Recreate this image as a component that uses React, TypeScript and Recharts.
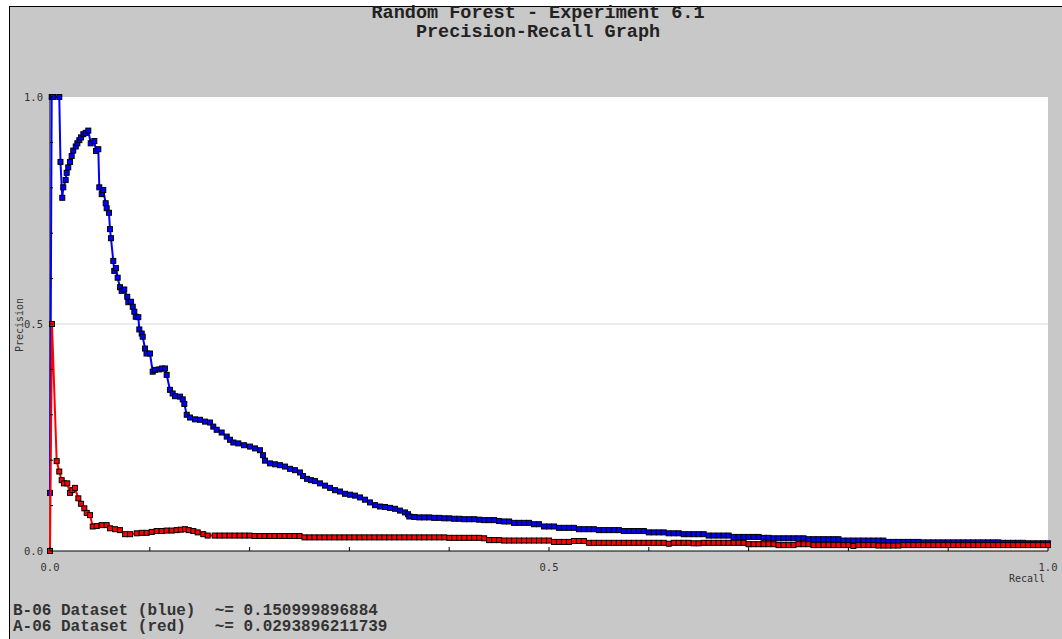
import React from 'react';
import { ScatterChart, Scatter, XAxis, YAxis, CartesianGrid, ReferenceLine } from 'recharts';

// recall / precision pairs
const blueHead: [number, number][] = [
  [0, 0.128], [0.0017, 1.0], [0.003, 1.0], [0.0093, 1.0], [0.0105, 0.857], [0.0123, 0.778], [0.0133, 0.801],
  [0.0157, 0.817], [0.0167, 0.833], [0.0183, 0.845], [0.020, 0.857], [0.0217, 0.870], [0.0233, 0.882],
  [0.0258, 0.891], [0.0274, 0.898], [0.0294, 0.905], [0.0311, 0.911], [0.0334, 0.918], [0.0358, 0.921],
  [0.0384, 0.926], [0.0408, 0.898], [0.0444, 0.903], [0.0461, 0.881], [0.0484, 0.885], [0.0494, 0.801],
  [0.0518, 0.786], [0.0534, 0.795], [0.0558, 0.766], [0.0568, 0.755], [0.0591, 0.745], [0.0601, 0.709],
  [0.0611, 0.689], [0.0634, 0.639], [0.0644, 0.617], [0.0661, 0.623], [0.0678, 0.602], [0.0701, 0.581],
  [0.0718, 0.573], [0.0744, 0.576], [0.0774, 0.560], [0.0785, 0.548], [0.0812, 0.549], [0.0829, 0.538],
  [0.0845, 0.527], [0.0859, 0.516], [0.0885, 0.515], [0.0895, 0.488], [0.0919, 0.479], [0.0929, 0.472],
  [0.0952, 0.446], [0.0967, 0.435], [0.1002, 0.435], [0.1029, 0.395], [0.1052, 0.399], [0.1095, 0.400],
  [0.1122, 0.402], [0.1152, 0.402], [0.1169, 0.388], [0.1202, 0.355], [0.1229, 0.347], [0.1253, 0.341],
  [0.1303, 0.340], [0.1330, 0.334], [0.1346, 0.324], [0.1370, 0.300], [0.1403, 0.294], [0.1453, 0.290],
  [0.1503, 0.289], [0.1553, 0.285], [0.1603, 0.283], [0.1636, 0.274], [0.1670, 0.267], [0.1720, 0.261],
  [0.1771, 0.252], [0.1804, 0.245], [0.1837, 0.239], [0.1887, 0.237], [0.1944, 0.233], [0.2004, 0.230],
  [0.2054, 0.226], [0.2104, 0.222], [0.2134, 0.211], [0.2154, 0.199], [0.2204, 0.193], [0.2255, 0.191],
  [0.2305, 0.189], [0.2355, 0.186], [0.2405, 0.181], [0.2455, 0.178], [0.2505, 0.173], [0.2535, 0.165],
  [0.2575, 0.159], [0.2615, 0.156], [0.2655, 0.154], [0.2705, 0.149], [0.2756, 0.144], [0.2806, 0.139],
  [0.2856, 0.134], [0.2906, 0.131], [0.2956, 0.126], [0.3006, 0.124], [0.3056, 0.122], [0.3106, 0.118],
  [0.3156, 0.113], [0.3206, 0.107], [0.3257, 0.101], [0.3307, 0.098], [0.3357, 0.097], [0.3407, 0.095],
  [0.3457, 0.093], [0.3507, 0.089], [0.3557, 0.085], [0.3587, 0.081],
];

const blueTail: [number, number][] = [
  [0.360, 0.076], [0.365, 0.075], [0.370, 0.074], [0.375, 0.074], [0.380, 0.074], [0.385, 0.073], [0.390, 0.073], [0.395, 0.072], [0.400, 0.072], [0.405, 0.071],
  [0.410, 0.071], [0.415, 0.070], [0.420, 0.070], [0.425, 0.070], [0.430, 0.069], [0.435, 0.068], [0.440, 0.068], [0.445, 0.068], [0.450, 0.066], [0.455, 0.065],
  [0.460, 0.065], [0.465, 0.062], [0.470, 0.062], [0.475, 0.062], [0.480, 0.062], [0.485, 0.059], [0.490, 0.059], [0.495, 0.054], [0.500, 0.054], [0.505, 0.054],
  [0.510, 0.051], [0.515, 0.051], [0.520, 0.051], [0.525, 0.051], [0.530, 0.048], [0.535, 0.048], [0.540, 0.048], [0.545, 0.048], [0.550, 0.046], [0.555, 0.046],
  [0.560, 0.046], [0.565, 0.046], [0.570, 0.046], [0.575, 0.044], [0.580, 0.044], [0.585, 0.044], [0.590, 0.044], [0.595, 0.044], [0.600, 0.041], [0.605, 0.041],
  [0.610, 0.041], [0.615, 0.041], [0.620, 0.039], [0.625, 0.039], [0.630, 0.039], [0.635, 0.037], [0.640, 0.037], [0.645, 0.037], [0.650, 0.037], [0.655, 0.037],
  [0.660, 0.034], [0.665, 0.034], [0.670, 0.034], [0.675, 0.034], [0.680, 0.034], [0.685, 0.031], [0.690, 0.031], [0.695, 0.031], [0.700, 0.031], [0.705, 0.031],
  [0.710, 0.031], [0.715, 0.029], [0.720, 0.029], [0.725, 0.028], [0.730, 0.028], [0.735, 0.028], [0.740, 0.028], [0.745, 0.028], [0.750, 0.028], [0.755, 0.028],
  [0.760, 0.026], [0.765, 0.026], [0.770, 0.026], [0.775, 0.026], [0.780, 0.026], [0.785, 0.026], [0.790, 0.026], [0.795, 0.023], [0.800, 0.023], [0.805, 0.023],
  [0.810, 0.023], [0.815, 0.023], [0.820, 0.023], [0.825, 0.023], [0.830, 0.023], [0.835, 0.023], [0.840, 0.020], [0.845, 0.020], [0.850, 0.020], [0.855, 0.020],
  [0.860, 0.020], [0.865, 0.020], [0.870, 0.020], [0.875, 0.019], [0.880, 0.019], [0.885, 0.019], [0.890, 0.019], [0.895, 0.019], [0.900, 0.019], [0.905, 0.019],
  [0.910, 0.019], [0.915, 0.019], [0.920, 0.019], [0.925, 0.019], [0.930, 0.019], [0.935, 0.019], [0.940, 0.019], [0.945, 0.019], [0.950, 0.019], [0.955, 0.018],
  [0.960, 0.018], [0.965, 0.018], [0.970, 0.018], [0.975, 0.018], [0.980, 0.017], [0.985, 0.017], [0.990, 0.017], [0.995, 0.017], [1.000, 0.017],
];

const redHead: [number, number][] = [
  [0, 0], [0.002, 0.5], [0.0067, 0.198], [0.0093, 0.175], [0.0117, 0.156], [0.014, 0.149], [0.0173, 0.149],
  [0.020, 0.128], [0.0223, 0.134], [0.025, 0.139], [0.0284, 0.116], [0.0311, 0.104], [0.0344, 0.094],
  [0.0368, 0.084], [0.0401, 0.079], [0.0428, 0.054], [0.0468, 0.055], [0.0518, 0.057], [0.0568, 0.057],
  [0.0601, 0.050], [0.0651, 0.048], [0.0701, 0.046], [0.0752, 0.037], [0.0802, 0.037], [0.0869, 0.039],
  [0.092, 0.040], [0.0969, 0.040], [0.102, 0.042], [0.1069, 0.044], [0.112, 0.044], [0.1169, 0.045],
  [0.122, 0.045], [0.1269, 0.046], [0.131, 0.047], [0.1353, 0.048], [0.139, 0.046], [0.1436, 0.044],
  [0.148, 0.041], [0.1536, 0.037], [0.158, 0.034],
];

const redTail: [number, number][] = [
  [0.165, 0.034], [0.170, 0.034], [0.175, 0.034], [0.180, 0.034], [0.185, 0.034], [0.190, 0.034], [0.195, 0.034], [0.200, 0.034], [0.205, 0.033], [0.210, 0.033],
  [0.215, 0.033], [0.220, 0.033], [0.225, 0.033], [0.230, 0.033], [0.235, 0.033], [0.240, 0.033], [0.245, 0.033], [0.250, 0.033], [0.255, 0.030], [0.260, 0.030],
  [0.265, 0.030], [0.270, 0.030], [0.275, 0.030], [0.280, 0.030], [0.285, 0.030], [0.290, 0.030], [0.295, 0.030], [0.300, 0.030], [0.305, 0.030], [0.310, 0.030],
  [0.315, 0.030], [0.320, 0.030], [0.325, 0.030], [0.330, 0.030], [0.335, 0.030], [0.340, 0.030], [0.345, 0.030], [0.350, 0.030], [0.355, 0.030], [0.360, 0.030],
  [0.365, 0.030], [0.370, 0.030], [0.375, 0.030], [0.380, 0.030], [0.385, 0.030], [0.390, 0.030], [0.395, 0.030], [0.400, 0.029], [0.405, 0.029], [0.410, 0.029],
  [0.415, 0.029], [0.420, 0.029], [0.425, 0.029], [0.430, 0.029], [0.435, 0.028], [0.440, 0.024], [0.445, 0.024], [0.450, 0.024], [0.455, 0.023], [0.460, 0.023],
  [0.465, 0.023], [0.470, 0.023], [0.475, 0.023], [0.480, 0.023], [0.485, 0.023], [0.490, 0.023], [0.495, 0.023], [0.500, 0.023], [0.505, 0.020], [0.510, 0.020],
  [0.515, 0.020], [0.520, 0.020], [0.525, 0.022], [0.530, 0.022], [0.535, 0.022], [0.540, 0.018], [0.545, 0.018], [0.550, 0.018], [0.555, 0.018], [0.560, 0.018],
  [0.565, 0.018], [0.570, 0.018], [0.575, 0.018], [0.580, 0.018], [0.585, 0.018], [0.590, 0.018], [0.595, 0.018], [0.600, 0.018], [0.605, 0.018], [0.610, 0.018],
  [0.615, 0.018], [0.620, 0.016], [0.625, 0.018], [0.630, 0.018], [0.635, 0.018], [0.640, 0.018], [0.645, 0.017], [0.650, 0.017], [0.655, 0.018], [0.660, 0.018],
  [0.665, 0.018], [0.670, 0.018], [0.675, 0.018], [0.680, 0.018], [0.685, 0.018], [0.690, 0.018], [0.695, 0.018], [0.700, 0.015], [0.705, 0.015], [0.710, 0.015],
  [0.715, 0.015], [0.720, 0.015], [0.725, 0.015], [0.730, 0.013], [0.735, 0.013], [0.740, 0.013], [0.745, 0.013], [0.750, 0.015], [0.755, 0.015], [0.760, 0.015],
  [0.765, 0.013], [0.770, 0.013], [0.775, 0.013], [0.780, 0.013], [0.785, 0.013], [0.790, 0.013], [0.795, 0.013], [0.800, 0.013], [0.805, 0.011], [0.810, 0.013],
  [0.815, 0.013], [0.820, 0.013], [0.825, 0.013], [0.830, 0.012], [0.835, 0.012], [0.840, 0.012], [0.845, 0.012], [0.850, 0.012], [0.855, 0.013], [0.860, 0.013],
  [0.865, 0.013], [0.870, 0.013], [0.875, 0.013], [0.880, 0.013], [0.885, 0.013], [0.890, 0.013], [0.895, 0.013], [0.900, 0.013], [0.905, 0.013], [0.910, 0.013],
  [0.915, 0.013], [0.920, 0.013], [0.925, 0.013], [0.930, 0.013], [0.935, 0.013], [0.940, 0.013], [0.945, 0.013], [0.950, 0.013], [0.955, 0.013], [0.960, 0.013],
  [0.965, 0.013], [0.970, 0.013], [0.975, 0.013], [0.980, 0.013], [0.985, 0.013], [0.990, 0.013], [0.995, 0.013], [1.000, 0.013],
];

const axisTicks = [0, 0.1, 0.2, 0.3, 0.4, 0.5, 0.6, 0.7, 0.8, 0.9, 1.0];
const labelledTicks = [0, 0.5, 1.0];

const titleLines = ['Random Forest - Experiment 6.1', 'Precision-Recall Graph'];
const legendLines = [
  'B-06 Dataset (blue)  ~= 0.150999896884',
  'A-06 Dataset (red)   ~= 0.0293896211739',
];

const toPoints = (pairs: [number, number][]) => pairs.map(([r, p]) => ({ r, p }));
const blueData = toPoints([...blueHead, ...blueTail]);
const redData = toPoints([...redHead, ...redTail]);

const MONO = '"Liberation Mono", "Courier New", monospace';
const TICK_FONT = '"DejaVu Sans Mono", monospace';

const square = (fill: string) => (props: any) => (
  <rect x={props.cx - 2.5} y={props.cy - 2.5} width={5} height={5} fill={fill} stroke="#000" strokeWidth={1} />
);

const XTick = (props: any) => {
  const { x, y, payload } = props;
  const v = payload.value;
  return (
    <g>
      <line x1={x} y1={y} x2={x} y2={y - 4} stroke="#000" />
      {labelledTicks.includes(v) && (
        <text x={x} y={y + 20} textAnchor="middle" fontFamily={TICK_FONT} fontSize={10.5} fill="#333">
          {v.toFixed(1)}
        </text>
      )}
    </g>
  );
};

const YTick = (props: any) => {
  const { x, y, payload } = props;
  const v = payload.value;
  return (
    <g>
      <line x1={x} y1={y} x2={x + 3} y2={y} stroke="#000" />
      {labelledTicks.includes(v) && (
        <text x={x - 7} y={y + 4} textAnchor="end" fontFamily={TICK_FONT} fontSize={10.5} fill="#333">
          {v.toFixed(1)}
        </text>
      )}
    </g>
  );
};

const App: React.FC = () => {
  return (
    <div style={{ position: 'fixed', left: 0, top: 0, width: 1062, height: 639, background: '#fff' }}>
      {/* grey frame */}
      <div
        style={{
          position: 'absolute', left: 9, top: 6, width: 1053, height: 633, boxSizing: 'border-box',
          background: '#c8c8c8', borderTop: '1px solid #000', borderLeft: '1px solid #000',
        }}
      />

      <div style={{ position: 'absolute', left: 0, top: 0 }}>
        <ScatterChart width={1062} height={639} margin={{ top: 97, right: 14, bottom: 58, left: 10 }}>
          <CartesianGrid horizontal={false} vertical={false} fill="#ffffff" />
          <ReferenceLine y={0.5} stroke="#d8d8d8" />
          <XAxis
            type="number"
            dataKey="r"
            domain={[0, 1]}
            ticks={axisTicks}
            interval={0}
            height={30}
            tickSize={0}
            tickMargin={0}
            tickLine={false}
            axisLine={{ stroke: '#000' }}
            tick={<XTick />}
          />
          <YAxis
            type="number"
            dataKey="p"
            domain={[0, 1]}
            ticks={axisTicks}
            interval={0}
            width={40}
            tickSize={0}
            tickMargin={0}
            tickLine={false}
            axisLine={{ stroke: '#000' }}
            tick={<YTick />}
          />
          <Scatter
            data={blueData}
            line={{ stroke: '#0000ff', strokeWidth: 2 }}
            shape={square('#0000ff')}
            isAnimationActive={false}
          />
          <Scatter
            data={redData}
            line={{ stroke: '#ff0000', strokeWidth: 2 }}
            shape={square('#ff0000')}
            isAnimationActive={false}
          />
        </ScatterChart>
      </div>

      {titleLines.map((t, i) => (
        <div
          key={t}
          style={{
            position: 'absolute', left: 288, top: 4 + i * 19, width: 500, height: 19, lineHeight: '19px',
            textAlign: 'center', fontFamily: MONO, fontWeight: 'bold', fontSize: 18.5, color: '#222',
            whiteSpace: 'pre', zIndex: 2,
          }}
        >
          {t}
        </div>
      ))}

      <div
        style={{
          position: 'absolute', left: 19, top: 325, transform: 'translate(-50%, -50%) rotate(-90deg)',
          fontFamily: TICK_FONT, fontSize: 10, color: '#333', whiteSpace: 'nowrap',
        }}
      >
        Precision
      </div>
      <div
        style={{
          position: 'absolute', right: 17, top: 573, lineHeight: '12px',
          fontFamily: TICK_FONT, fontSize: 10, color: '#333',
        }}
      >
        Recall
      </div>

      {legendLines.map((t, i) => (
        <div
          key={t}
          style={{
            position: 'absolute', left: 13, top: 603 + i * 16, height: 17, lineHeight: '17px',
            fontFamily: MONO, fontWeight: 'bold', fontSize: 16, color: '#333', whiteSpace: 'pre',
          }}
        >
          {t}
        </div>
      ))}
    </div>
  );
};

export default App;
